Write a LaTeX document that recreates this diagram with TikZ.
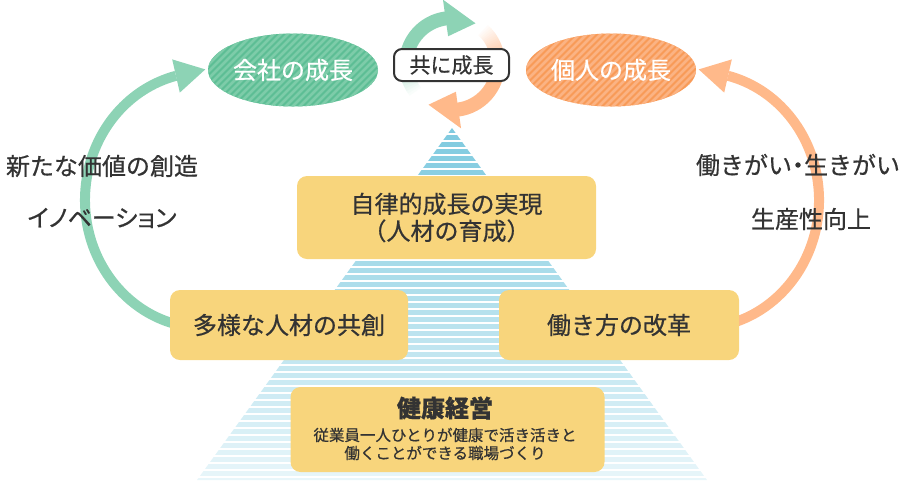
\documentclass[tikz,border=0pt]{standalone}
\usepackage{fontspec}
\setmainfont{Noto Sans CJK JP}[FakeBold=0.6]
\newfontfamily\jppalt{Noto Sans CJK JP}[FakeBold=0.6,RawFeature=+palt]
\usetikzlibrary{arrows.meta,calc}
\definecolor{boxy}{HTML}{F8D57C}
\definecolor{grn}{HTML}{8DD3B5}
\definecolor{org}{HTML}{FFB98A}
\definecolor{egrn}{HTML}{5DBE95}
\definecolor{egrnl}{HTML}{7DCCA9}
\definecolor{eorg}{HTML}{F89B58}
\definecolor{eorgl}{HTML}{FBB383}
\definecolor{txt}{HTML}{333333}
\definecolor{pyrtop}{HTML}{7FCADF}
\definecolor{pyrbot}{HTML}{E8F6FA}
\tikzset{
  ybox/.style={fill=boxy, rounded corners=10pt, inner sep=0pt, text=txt, align=center, font=\fontsize{24}{27}\selectfont},
  sidetxt/.style={text=txt, inner sep=0pt, font=\fontsize{24}{26}\selectfont},
  elltxt/.style={text=white, inner sep=0pt, font=\fontsize{24}{28}\selectfont},
}
\begin{document}
\begin{tikzpicture}[x=1pt,y=-1pt]
\useasboundingbox (0,0) rectangle (904,480);

% pyramid
\begin{scope}
\clip (452,128) -- (707,480) -- (197,480) -- cycle;
\foreach \i in {0,...,50} {
  \pgfmathsetmacro\yy{128+\i*7}
  \pgfmathtruncatemacro\pc{100-\i*2}
  \fill[pyrtop!\pc!pyrbot] (190,\yy) rectangle (720,\yy+5);
}
\end{scope}

% left green arc
\draw[grn, line width=10pt] (205,200) ++(100:120 and 128) arc[start angle=100, end angle=256, x radius=120, y radius=128];
\fill[grn] (172.2,59.4) -- (205.3,69.4) -- (179.8,92.6) -- cycle;
% right orange arc
\draw[org, line width=10pt] (699,200) ++(80:120 and 128) arc[start angle=80, end angle=-76, x radius=120, y radius=128];
\fill[org] (731.8,59.4) -- (698.7,69.4) -- (724.2,92.6) -- cycle;

% small circular arrows
\coordinate (cc) at (452,64);
\foreach \i in {0,...,19} {
  \pgfmathsetmacro\aa{140+\i*3}
  \pgfmathtruncatemacro\pc{\i*5}
  \draw[grn!\pc!white, line width=14pt] (cc) ++(\aa:46) arc[start angle=\aa, end angle=\aa+3.6, radius=46];
}
\draw[grn, line width=14pt] (cc) ++(200:46) arc[start angle=200, end angle=263, radius=46];
\fill[grn] ($(cc)+(262:28)$) -- ($(cc)+(300:47)$) -- ($(cc)+(262:65)$) -- cycle;
\foreach \i in {0,...,19} {
  \pgfmathsetmacro\aa{-50+\i*2.5}
  \pgfmathtruncatemacro\pc{\i*5}
  \draw[org!\pc!white, line width=14pt] (cc) ++(\aa:46) arc[start angle=\aa, end angle=\aa+3.1, radius=46];
}
\draw[org, line width=14pt] (cc) ++(0:46) arc[start angle=0, end angle=83, radius=46];
\fill[org] ($(cc)+(82:28)$) -- ($(cc)+(120:47)$) -- ($(cc)+(82:65)$) -- cycle;

% ellipses
\begin{scope}
\clip (293,70) ellipse[x radius=85, y radius=36.5];
\fill[egrn] (200,30) rectangle (390,110);
\foreach \k in {-100,-93,...,200} {
  \draw[egrnl, line width=2.5pt] (200+\k,110) -- (280+\k,30);
}
\end{scope}
\node[elltxt] (kaisha) at (293,70) {会社の成長};
\begin{scope}
\clip (611,70) ellipse[x radius=85, y radius=36.5];
\fill[eorg] (520,30) rectangle (700,110);
\foreach \k in {-100,-93,...,200} {
  \draw[eorgl, line width=2.5pt] (520+\k,110) -- (600+\k,30);
}
\end{scope}
\node[elltxt] (kojin) at (611,70) {個人の成長};

\node[draw=txt, line width=2pt, fill=white, rounded corners=8pt, minimum width=115pt, minimum height=32pt, inner sep=0pt, text=txt, font=\fontsize{21}{24}\selectfont] (tomo) at (451.5,65) {共に成長};

% side labels
\node[sidetxt] (kachi) at (102,166) {新たな価値の創造};
\node[sidetxt, font=\jppalt\fontsize{24}{26}\selectfont] (inov) at (102,218) {イノベーション};
\node[sidetxt] (hata) at (798,165) {働きがい\hspace{-6pt}・\hspace{-6pt}生きがい};
\node[sidetxt] (seisan) at (811,219) {生産性向上};

% boxes
\node[ybox, minimum width=299pt, minimum height=83pt] (jiritsu) at (446.5,217.5) {自律的成長の実現\\（人材の育成）};
\node[ybox, minimum width=238pt, minimum height=70pt] (tayou) at (289,325) {多様な人材の共創};
\node[ybox, minimum width=240pt, minimum height=70pt] (hataraki) at (619,325) {働き方の改革};
\node[ybox, minimum width=314pt, minimum height=85pt] (kenkou) at (447.5,429.5) {};
\node[text=txt, inner sep=0pt, font=\fontsize{24}{28}\bfseries\selectfont] (kktitle) at (445,408) {健康経営};
\node[text=txt, inner sep=0pt, align=center, font=\fontsize{15.5}{18}\selectfont] (kksub) at (445,444) {従業員一人ひとりが健康で活き活きと\\働くことができる職場づくり};
\end{tikzpicture}
\end{document}
